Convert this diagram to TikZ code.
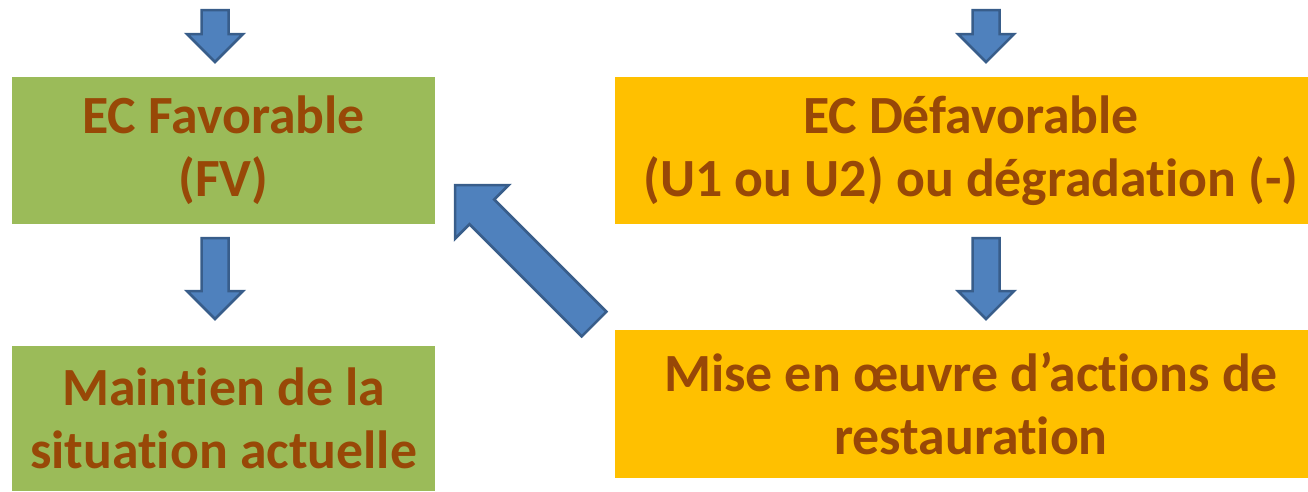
\documentclass[tikz,border=0pt]{standalone}
\usepackage{fontspec}
\setmainfont{Carlito}[Ligatures={TeX,NoCommon}]
\usetikzlibrary{
  positioning,
  calc
}

\definecolor{boxgreen}{HTML}{9BBB59}
\definecolor{boxorange}{HTML}{FFC000}
\definecolor{txtbrown}{HTML}{984807}
\definecolor{arrowfill}{HTML}{4F81BD}
\definecolor{arrowline}{HTML}{385D8A}

\tikzset{
  statebox/.style={rectangle, inner sep=0pt, align=center, text=txtbrown,
    font=\fontsize{30.6}{35.8}\selectfont\bfseries},
  fatarrow/.style={fill=arrowfill, draw=arrowline, line width=0.05cm, line join=miter}
}

% fat arrow from #1 to #2: half shaft, half head, head length
\newcommand{\blockarrow}[5]{%
  \draw[fatarrow]
    ($(#1)!#3!90:(#2)$) -- ($(#2)!#5!(#1)!#3!90:(#2)$)
    -- ($(#2)!#5!(#1)!#4!90:(#2)$) -- (#2)
    -- ($(#2)!#5!(#1)!#4!-90:(#2)$) -- ($(#2)!#5!(#1)!#3!-90:(#2)$)
    -- ($(#1)!#3!-90:(#2)$) -- cycle;
}

\begin{document}
\begin{tikzpicture}[x=0.02cm, y=-0.02cm]
      \useasboundingbox (0,0) rectangle (1308,491);

      % Boxes
      \node[statebox, fill=boxgreen, minimum width=8.46cm, minimum height=2.94cm]
        (fav) at (223.5,150.5) {EC Favorable\\(FV)};
      \node[statebox, fill=boxgreen, minimum width=8.46cm, minimum height=2.9cm]
        (maint) at (223.5,418.5) {Maintien de la\\situation actuelle};
      \node[statebox, fill=boxorange, minimum width=14.24cm, minimum height=2.94cm]
        (defav) at (971,150.5) {EC Défavorable\\(U1 ou U2) ou dégradation (-)};
      \node[statebox, fill=boxorange, minimum width=14.24cm, minimum height=2.96cm]
        (resto) at (971,404) {Mise en œuvre d’actions de\\restauration};

      % Arrow ends
      \coordinate (fvtop) at (215,10);
      \coordinate (fvin) at (215,62);
      \coordinate (fvout) at (215,238);
      \coordinate (mtin) at (215,319);
      \coordinate (dftop) at (986,10);
      \coordinate (dfin) at (986,62);
      \coordinate (dfout) at (986,238);
      \coordinate (rsin) at (986,319);
      \coordinate (rsout) at (594,324);
      \coordinate (fvback) at (455,185);

      % Arrows
      \blockarrow{fvtop}{fvin}{0.27cm}{0.56cm}{0.56cm}
      \blockarrow{fvout}{mtin}{0.27cm}{0.56cm}{0.56cm}
      \blockarrow{dftop}{dfin}{0.27cm}{0.56cm}{0.56cm}
      \blockarrow{dfout}{rsin}{0.27cm}{0.56cm}{0.56cm}
      \blockarrow{rsout}{fvback}{0.35cm}{0.76cm}{0.76cm}
    \end{tikzpicture}
\end{document}
